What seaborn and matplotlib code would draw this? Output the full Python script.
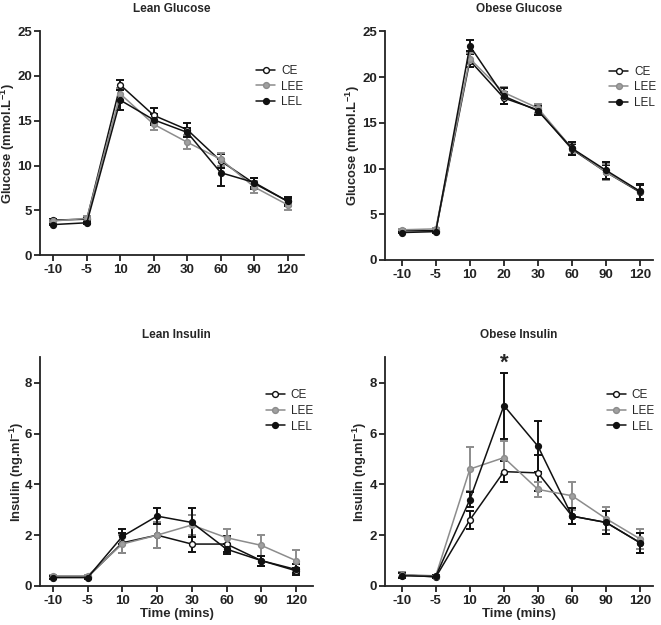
import numpy as np
import matplotlib
matplotlib.use("Agg")
import matplotlib.pyplot as plt
import seaborn as sns

# time points (categorical x axis)
times = ["-10", "-5", "10", "20", "30", "60", "90", "120"]
groups = ["CE", "LEE", "LEL"]

# Lean glucose (mmol/L), mean and SEM
lean_glu_ce = [3.9, 4.0, 19.0, 15.6, 14.0, 10.5, 8.0, 6.0]
lean_glu_ce_err = [0.15, 0.2, 0.6, 0.8, 0.7, 0.8, 0.6, 0.5]
lean_glu_lee = [3.8, 4.1, 18.0, 14.6, 12.6, 10.7, 7.6, 5.6]
lean_glu_lee_err = [0.15, 0.25, 0.7, 0.6, 0.8, 0.7, 0.7, 0.6]
lean_glu_lel = [3.4, 3.6, 17.3, 15.1, 13.7, 9.2, 8.1, 6.0]
lean_glu_lel_err = [0.1, 0.1, 1.1, 0.6, 0.5, 1.5, 0.5, 0.4]

# Obese glucose (mmol/L)
ob_glu_ce = [3.2, 3.2, 21.8, 17.7, 16.4, 12.1, 9.6, 7.4]
ob_glu_ce_err = [0.1, 0.1, 0.7, 0.7, 0.5, 0.6, 0.8, 0.8]
ob_glu_lee = [3.3, 3.4, 22.0, 18.3, 16.6, 12.2, 9.6, 7.5]
ob_glu_lee_err = [0.1, 0.15, 0.6, 0.6, 0.5, 0.6, 0.9, 0.8]
ob_glu_lel = [3.0, 3.1, 23.4, 17.9, 16.3, 12.2, 9.8, 7.5]
ob_glu_lel_err = [0.1, 0.1, 0.6, 0.9, 0.5, 0.7, 0.9, 0.8]

# Lean insulin (ng/ml)
lean_ins_ce = [0.35, 0.35, 1.7, 2.0, 1.65, 1.65, 1.0, 0.6]
lean_ins_ce_err = [0.05, 0.05, 0.4, 0.5, 0.3, 0.3, 0.2, 0.1]
lean_ins_lee = [0.4, 0.4, 1.65, 2.0, 2.4, 1.9, 1.6, 1.0]
lean_ins_lee_err = [0.05, 0.05, 0.35, 0.5, 0.4, 0.35, 0.4, 0.4]
lean_ins_lel = [0.33, 0.33, 1.95, 2.75, 2.5, 1.45, 1.0, 0.65]
lean_ins_lel_err = [0.05, 0.05, 0.3, 0.3, 0.57, 0.2, 0.2, 0.2]

# Obese insulin (ng/ml)
ob_ins_ce = [0.45, 0.35, 2.6, 4.5, 4.45, 2.75, 2.5, 1.7]
ob_ins_ce_err = [0.1, 0.05, 0.35, 0.4, 0.7, 0.3, 0.45, 0.4]
ob_ins_lee = [0.45, 0.4, 4.6, 5.05, 3.8, 3.55, 2.65, 1.85]
ob_ins_lee_err = [0.1, 0.05, 0.85, 0.65, 0.3, 0.55, 0.45, 0.4]
ob_ins_lel = [0.4, 0.38, 3.4, 7.1, 5.5, 2.75, 2.5, 1.7]
ob_ins_lel_err = [0.1, 0.05, 0.3, 1.3, 1.0, 0.3, 0.45, 0.4]

styles = {
    "CE": dict(color="#111111", mfc="white", mec="#111111"),
    "LEE": dict(color="#8c8c8c", mfc="#a0a0a0", mec="#8c8c8c"),
    "LEL": dict(color="#111111", mfc="#111111", mec="#111111"),
}

sns.set_style("ticks")
plt.rcParams["font.family"] = ["Liberation Sans", "DejaVu Sans"]
plt.rcParams["mathtext.fontset"] = "custom"
plt.rcParams["mathtext.rm"] = "Liberation Sans"
plt.rcParams["mathtext.bf"] = "Liberation Sans:bold"
plt.rcParams["axes.edgecolor"] = "#222222"
plt.rcParams["axes.linewidth"] = 1.3
plt.rcParams["xtick.major.width"] = 1.3
plt.rcParams["ytick.major.width"] = 1.3
plt.rcParams["xtick.major.size"] = 4
plt.rcParams["ytick.major.size"] = 4
plt.rcParams["xtick.major.pad"] = 2.5
plt.rcParams["ytick.major.pad"] = 1.5
plt.rcParams["xtick.color"] = "#222222"
plt.rcParams["ytick.color"] = "#222222"


def panel(ax, means, errs, title, ylabel, yticks, ylim, xlim, leg_anchor, ylab_x, xlabel=None):
    x = np.arange(len(times))
    for g, m, e in zip(groups, means, errs):
        st = styles[g]
        ax.errorbar(x, m, yerr=e, fmt="none", ecolor=st["color"], elinewidth=1.4,
                    capsize=3, capthick=1.4, zorder=2)
        sns.lineplot(x=x, y=m, ax=ax, color=st["color"], linewidth=1.1, marker="o",
                     markersize=4.2, markerfacecolor=st["mfc"], markeredgecolor=st["mec"],
                     markeredgewidth=1.0, label=g, zorder=3)
    ax.set_xticks(x)
    ax.set_xticklabels(times)
    ax.set_yticks(yticks)
    ax.set_ylim(*ylim)
    ax.set_xlim(*xlim)
    for lab in ax.get_xticklabels() + ax.get_yticklabels():
        lab.set_fontweight("bold")
        lab.set_fontsize(9.5)
    ax.set_title(title, fontsize=8.5, fontweight="bold", pad=14)
    ax.set_ylabel(ylabel, fontsize=9.3, fontweight="bold")
    ax.yaxis.set_label_coords(ylab_x, 0.5)
    if xlabel:
        ax.set_xlabel(xlabel, fontsize=9.5, fontweight="bold", labelpad=1)
    else:
        ax.set_xlabel("")
    ax.legend(loc="upper left", bbox_to_anchor=leg_anchor, frameon=False, fontsize=8.5,
              handlelength=1.6, handletextpad=0.5, labelspacing=0.3, borderaxespad=0)
    sns.despine(ax=ax)


fig = plt.figure(figsize=(6.61, 6.25), dpi=100)
ax1 = fig.add_axes([0.0605, 0.592, 0.400, 0.358])
ax2 = fig.add_axes([0.582, 0.584, 0.406, 0.366])
ax3 = fig.add_axes([0.0605, 0.0624, 0.413, 0.366])
ax4 = fig.add_axes([0.582, 0.0624, 0.406, 0.366])

glu_label = r"Glucose (mmol.L$^{\mathbf{-1}}$)"
ins_label = r"Insulin (ng.ml$^{\mathbf{-1}}$)"

panel(ax1, [lean_glu_ce, lean_glu_lee, lean_glu_lel],
      [lean_glu_ce_err, lean_glu_lee_err, lean_glu_lel_err],
      "Lean Glucose", glu_label, [0, 5, 10, 15, 20, 25], (0, 25), (-0.4, 7.5), (0.8, 0.87),
      -0.087)
panel(ax2, [ob_glu_ce, ob_glu_lee, ob_glu_lel],
      [ob_glu_ce_err, ob_glu_lee_err, ob_glu_lel_err],
      "Obese Glucose", glu_label, [0, 5, 10, 15, 20, 25], (0, 25), (-0.5, 7.38), (0.82, 0.87),
      -0.086)
panel(ax3, [lean_ins_ce, lean_ins_lee, lean_ins_lel],
      [lean_ins_ce_err, lean_ins_lee_err, lean_ins_lel_err],
      "Lean Insulin", ins_label, [0, 2, 4, 6, 8], (0, 9), (-0.37, 7.49), (0.81, 0.88),
      -0.05, xlabel="Time (mins)")
panel(ax4, [ob_ins_ce, ob_ins_lee, ob_ins_lel],
      [ob_ins_ce_err, ob_ins_lee_err, ob_ins_lel_err],
      "Obese Insulin", ins_label, [0, 2, 4, 6, 8], (0, 9), (-0.5, 7.38), (0.81, 0.88),
      -0.06, xlabel="Time (mins)")

# significance marker at 20 min
ax4.text(times.index("20"), 8.75, "*", ha="center", va="center", fontsize=16,
         fontweight="bold", clip_on=False)

fig.savefig("out.png", dpi=100)
